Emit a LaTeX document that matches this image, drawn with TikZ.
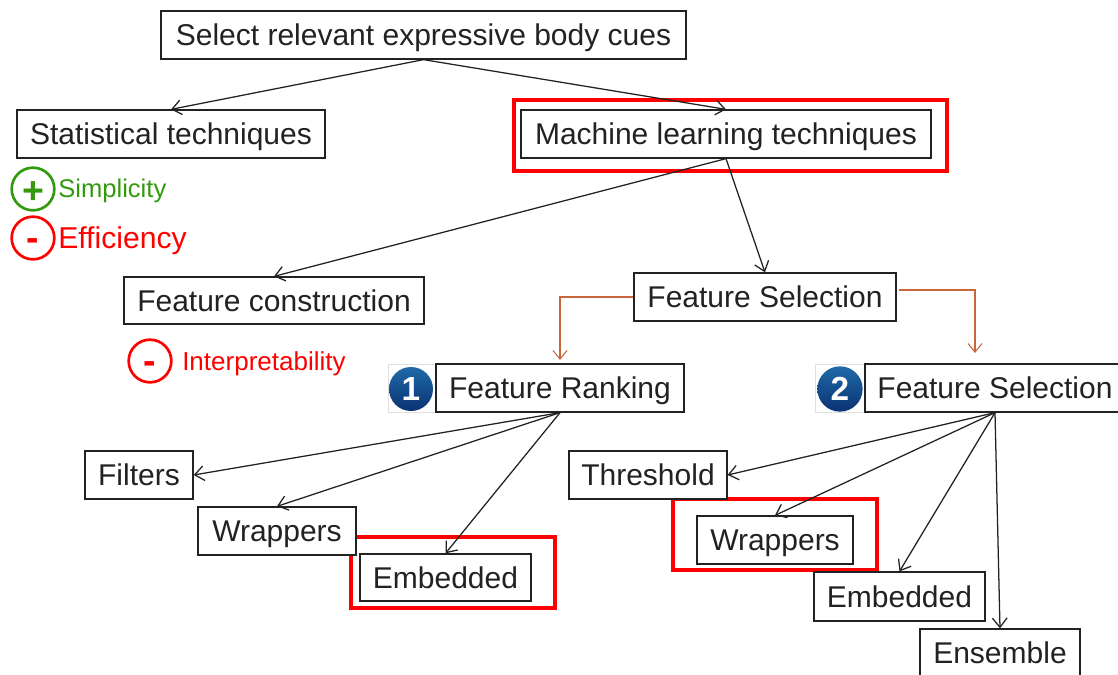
\documentclass[tikz,border=0pt]{standalone}
\usepackage{fontspec}
\setmainfont{Liberation Sans}
\usetikzlibrary{arrows.meta,calc}
\definecolor{inkc}{HTML}{222222}
\definecolor{redc}{HTML}{FF0000}
\definecolor{greenc}{HTML}{339A0E}
\definecolor{orangec}{HTML}{C8663C}
\definecolor{badgelo}{HTML}{0A3272}
\definecolor{badgehi}{HTML}{1F6AA8}
\tikzset{
  wh/.style 2 args={minimum width=#1*0.75pt,minimum height=#2*0.75pt},
  tbox/.style={draw=inkc,fill=white,line width=.95pt,text=inkc,inner sep=0pt,text height=20.5pt,text depth=4.5pt,font=\fontsize{22.5}{26}\selectfont},
  redframe/.style={draw=redc,line width=2.4pt,inner sep=0pt},
  badgebg/.style={draw=black!12,fill=white,line width=.6pt,inner sep=0pt},
  ball/.style={circle,inner sep=0pt,minimum size=33pt,top color=badgehi,bottom color=badgelo,text=white,font=\bfseries\fontsize{25}{28}\selectfont},
  conn/.style={draw=inkc,line width=.95pt,-{Straight Barb[length=7pt,width=11pt]}},
  oconn/.style={draw=orangec,line width=.8pt,-{Straight Barb[length=6.5pt,width=10.5pt]}},
  ring/.style={circle,line width=2pt,inner sep=0pt,minimum size=32pt,fill=white,font=\bfseries\fontsize{28}{30}\selectfont},
  glabel/.style={anchor=base west,inner sep=0pt},
}
\begin{document}
\begin{tikzpicture}[x=0.75pt,y=-0.75pt]
\useasboundingbox (0,0) rectangle (1118,675);
\clip (0,0) rectangle (1118,675);
% red frames
\node[redframe,wh={433}{71}] (f1) at (730.5,135.5) {};
\node[redframe,wh={204}{71}] (f2) at (453,572.5) {};
\node[redframe,wh={204}{71}] (f3) at (775,534.5) {};
% boxes
\node[tbox,wh={525}{48}] (top) at (423.5,35) {Select relevant expressive body cues};
\node[tbox,wh={308}{48}] (stat) at (171,134) {Statistical techniques};
\node[tbox,wh={410}{48}] (ml) at (726,134) {Machine learning techniques};
\node[tbox,wh={300}{47}] (fc) at (274,300.5) {Feature construction};
\node[tbox,wh={262}{48}] (fs) at (765,297) {Feature Selection};
\node[badgebg,wh={48}{48}] (b1bg) at (412,388) {};
\node[badgebg,wh={50}{48}] (b2bg) at (840,388) {};
\node[tbox,wh={248}{48}] (fr) at (560,388) {Feature Ranking};
\node[tbox,wh={260}{48}] (fsb) at (995,388) {Feature Selection};
\node[tbox,wh={108}{48}] (filt) at (139,475) {Filters};
\node[tbox,wh={158}{48}] (wr) at (277,531) {Wrappers};
\node[tbox,wh={171}{47}] (emb) at (445.5,577.5) {Embedded};
\node[tbox,wh={158}{48}] (thr) at (648,475) {Threshold};
\node[tbox,wh={156}{48}] (wrb) at (775,540) {Wrappers};
\node[tbox,wh={171}{49}] (embb) at (899.5,596.5) {Embedded};
\node[tbox,wh={160}{48}] (ens) at (1000,653) {Ensemble};
% badges
\node[ball] (b1) at (411,389) {1};
\node[ball,minimum size=34pt] (b2) at (840,389) {2};
% rings and labels
\node[ring,draw=greenc,text=greenc] (rs) at (33,189) {\smash{\raisebox{-10.8pt}{+}}};
\node[glabel,text=greenc,font=\fontsize{19.2}{22}\selectfont] (ls) at (58,197) {Simplicity};
\node[ring,draw=redc,text=redc] (re) at (33,238) {\smash{\raisebox{-9.7pt}{-}}};
\node[glabel,text=redc,font=\fontsize{22.6}{26}\selectfont] (le) at (58,248) {Efficiency};
\node[ring,draw=redc,text=redc] (ri) at (150,361) {\smash{\raisebox{-9.7pt}{-}}};
\node[glabel,text=redc,font=\fontsize{19.5}{22}\selectfont] (li) at (182,370) {Interpretability};
% connectors
\draw[conn] (top.south) -- (stat.north);
\draw[conn] (top.south) -- (ml.north);
\draw[conn] (ml.south) -- (fc.north);
\draw[conn] (ml.south) -- (fs.north);
\draw[conn] (fr.south) -- (filt.east);
\draw[conn] (fr.south) -- (wr.north);
\draw[conn] (fr.south) -- (emb.north);
\draw[conn] (fsb.south) -- (thr.east);
\draw[conn] (fsb.south) -- (wrb.north);
\draw[conn] (fsb.south) -- (embb.north);
\draw[conn] (fsb.south) -- (ens.north);
\coordinate (osa) at (899,290);
\coordinate (oea) at (975,353);
\draw[oconn] (osa) -| (oea);
\coordinate (oeb) at (560,360);
\draw[oconn] (fs.west) -| (oeb);
\end{tikzpicture}
\end{document}
